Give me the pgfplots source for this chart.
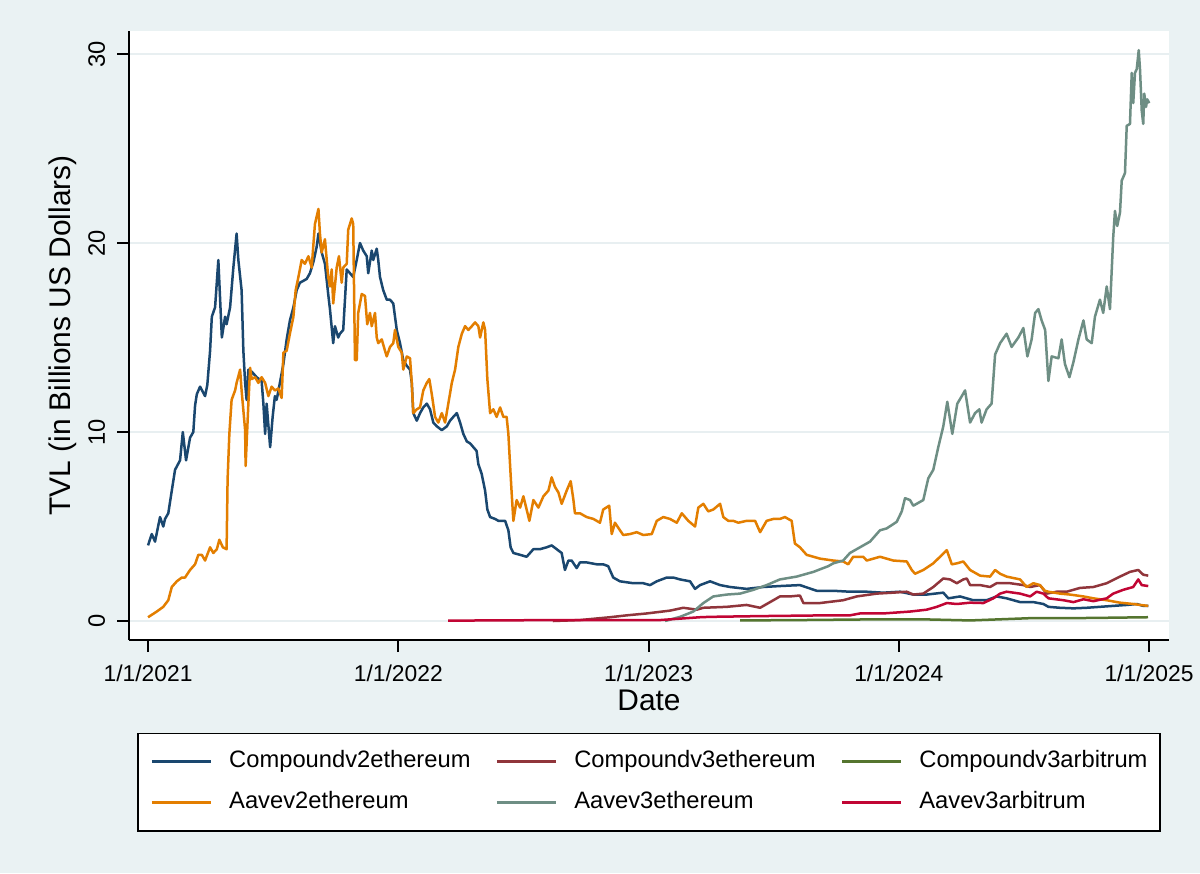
\documentclass[border=0pt]{standalone}
\usepackage{pgfplots}
\pgfplotsset{compat=1.18}
\usepackage{fontspec}
\setmainfont{Liberation Sans}

\definecolor{bgc}{HTML}{EAF2F3}
\definecolor{gridc}{HTML}{E8EFF1}
\definecolor{snavy}{HTML}{1A476F}
\definecolor{smaroon}{HTML}{90353B}
\definecolor{sgreen}{HTML}{55752F}
\definecolor{sorange}{HTML}{E37E00}
\definecolor{steal}{HTML}{6E8E84}
\definecolor{scranb}{HTML}{C10534}

\begin{document}
\begin{tikzpicture}
\fill[bgc] (0,0) rectangle (24cm,17.46cm);
\begin{axis}[
  at={(2.58cm,4.66cm)}, anchor=south west,
  scale only axis, width=20.8cm, height=12.18cm,
  xmin=2020.924, xmax=2025.080,
  ymin=-1.005, ymax=31.217,
  axis background/.style={fill=white},
  axis x line*=bottom, axis y line*=left,
  axis line style={black, line width=0.04cm, -},
  tick align=outside, major tick length=0.24cm,
  tick style={black, line width=0.04cm},
  xtick={2021,2022,2023,2024,2025},
  xticklabels={1/1/2021,1/1/2022,1/1/2023,1/1/2024,1/1/2025},
  ytick={0,10,20,30}, yticklabels={0,10,20,30},
  minor tick num=0,
  ymajorgrids, major grid style={gridc, line width=0.03cm},
  xticklabel style={font=\fontsize{13}{15}\selectfont, inner sep=0pt, anchor=north, yshift=-0.26cm},
  yticklabel style={font=\fontsize{13.5}{15}\selectfont, rotate=90, inner sep=0pt, anchor=south},
  yticklabel shift=0.23cm,
  xlabel={Date}, ylabel={TVL (in Billions US Dollars)},
  every axis x label/.style={at={(axis description cs:0.5,-0.0985)}, anchor=center, font=\fontsize{17}{20}\selectfont},
  every axis y label/.style={at={(axis description cs:-0.0635,0.5)}, rotate=90, anchor=center, font=\fontsize{17}{20}\selectfont},
  legend columns=3,
  legend cell align=left,
  legend image code/.code={\draw[#1, line width=0.055cm] (0cm,0cm) -- (1.18cm,0cm);},
  legend style={at={(axis description cs:0.5,-0.1527)}, anchor=north,
    draw=black, line width=0.03cm, fill=white,
    inner xsep=0.25cm, inner ysep=0.34cm, row sep=0.38cm,
    font=\fontsize{13.5}{16}\selectfont,
    nodes={inner sep=0pt, text height=0.34cm, text depth=0.1cm},
    /tikz/every odd column/.append style={column sep=0.34cm},
    /tikz/every even column/.append style={column sep=0.5cm}},
  every axis plot/.append style={line width=0.05cm, line join=round},
]
% Compoundv2ethereum
\addplot[snavy] coordinates {
(2021.000,4.0) (2021.015,4.6) (2021.028,4.2) (2021.048,5.5) (2021.061,5.0) (2021.068,5.4) (2021.081,5.7)
(2021.095,6.9) (2021.108,8.0) (2021.128,8.5) (2021.139,10.0) (2021.152,8.5) (2021.168,9.7) (2021.181,10.0)
(2021.188,11.4) (2021.195,12.0) (2021.208,12.4) (2021.228,11.9) (2021.237,12.5) (2021.248,14.3) (2021.255,16.1)
(2021.268,16.6) (2021.281,19.1) (2021.295,15.0) (2021.308,16.1) (2021.314,15.7) (2021.328,16.6) (2021.341,18.7)
(2021.354,20.5) (2021.361,19.1) (2021.374,17.5) (2021.381,14.3) (2021.388,12.6) (2021.394,11.7) (2021.401,13.3)
(2021.408,12.8) (2021.414,13.2) (2021.434,12.9) (2021.454,12.7) (2021.461,11.5) (2021.468,9.9) (2021.474,11.5)
(2021.488,9.2) (2021.498,10.8) (2021.507,11.9) (2021.514,11.7) (2021.527,12.6) (2021.541,13.6) (2021.554,14.9)
(2021.567,15.9) (2021.581,16.6) (2021.594,17.5) (2021.607,17.9) (2021.621,18.0) (2021.634,18.1) (2021.647,18.4)
(2021.661,19.0) (2021.674,19.8) (2021.681,20.5) (2021.694,19.5) (2021.707,18.9) (2021.720,17.3) (2021.727,16.5)
(2021.740,14.7) (2021.747,15.6) (2021.760,15.0) (2021.767,15.2) (2021.780,15.4) (2021.794,18.6) (2021.807,18.4)
(2021.820,18.2) (2021.834,19.1) (2021.847,20.0) (2021.860,19.6) (2021.874,19.3) (2021.880,18.4) (2021.894,19.6)
(2021.900,19.1) (2021.914,19.7) (2021.920,19.1) (2021.927,18.2) (2021.940,17.5) (2021.954,17.0) (2021.967,17.0)
(2021.980,16.8) (2021.994,15.4) (2022.007,14.7) (2022.020,13.8) (2022.034,13.5) (2022.047,13.3) (2022.054,12.6)
(2022.060,11.0) (2022.074,10.6) (2022.087,11.0) (2022.100,11.3) (2022.114,11.5) (2022.127,11.2) (2022.140,10.5)
(2022.154,10.3) (2022.174,10.1) (2022.194,10.3) (2022.207,10.6) (2022.220,10.8) (2022.234,11.0) (2022.247,10.5)
(2022.260,9.9) (2022.274,9.5) (2022.287,9.4) (2022.300,9.2) (2022.313,9.0) (2022.320,8.3) (2022.333,7.8)
(2022.347,6.9) (2022.356,5.9) (2022.367,5.5) (2022.387,5.4) (2022.400,5.3) (2022.427,5.3) (2022.440,4.8)
(2022.449,3.9) (2022.460,3.6) (2022.487,3.5) (2022.513,3.4) (2022.540,3.8) (2022.566,3.8) (2022.593,3.9)
(2022.613,4.0) (2022.633,3.8) (2022.653,3.6) (2022.666,2.7) (2022.680,3.2) (2022.693,3.2) (2022.713,2.8)
(2022.726,3.1) (2022.753,3.1) (2022.793,3.0) (2022.819,3.0) (2022.839,2.9) (2022.859,2.3) (2022.886,2.1)
(2022.939,2.0) (2022.979,2.0) (2023.006,1.9) (2023.033,2.1) (2023.073,2.3) (2023.099,2.3) (2023.126,2.2)
(2023.166,2.1) (2023.186,1.7) (2023.206,1.9) (2023.246,2.1) (2023.286,1.9) (2023.326,1.8) (2023.392,1.7)
(2023.459,1.8) (2023.525,1.85) (2023.605,1.9) (2023.672,1.6) (2023.738,1.6) (2023.805,1.55) (2023.872,1.55)
(2023.938,1.5) (2024.005,1.55) (2024.058,1.4) (2024.112,1.4) (2024.178,1.5) (2024.198,1.2) (2024.245,1.3)
(2024.298,1.1) (2024.351,1.1) (2024.391,1.3) (2024.431,1.2) (2024.485,1.0) (2024.538,1.0) (2024.578,0.9)
(2024.598,0.75) (2024.644,0.7) (2024.698,0.67) (2024.751,0.7) (2024.804,0.75) (2024.857,0.8) (2024.911,0.85)
(2024.951,0.9) (2024.977,0.8) (2024.997,0.8)
};
\addlegendentry{Compoundv2ethereum}
% Compoundv3ethereum
\addplot[smaroon] coordinates {
(2022.618,0.0) (2022.726,0.05) (2022.846,0.2) (2022.913,0.3) (2022.993,0.4) (2023.086,0.55) (2023.139,0.7)
(2023.193,0.6) (2023.219,0.7) (2023.313,0.75) (2023.392,0.85) (2023.446,0.7) (2023.499,1.1) (2023.525,1.3)
(2023.565,1.3) (2023.605,1.35) (2023.619,0.95) (2023.685,0.95) (2023.778,1.1) (2023.832,1.3) (2023.912,1.45)
(2023.978,1.5) (2024.032,1.55) (2024.058,1.4) (2024.098,1.45) (2024.138,1.8) (2024.178,2.25) (2024.205,2.2)
(2024.232,2.0) (2024.258,2.2) (2024.272,2.25) (2024.285,1.9) (2024.325,1.9) (2024.365,1.8) (2024.391,2.0)
(2024.445,2.0) (2024.498,1.9) (2024.525,1.8) (2024.564,1.9) (2024.591,1.45) (2024.631,1.55) (2024.671,1.55)
(2024.724,1.75) (2024.778,1.8) (2024.831,2.0) (2024.884,2.35) (2024.924,2.6) (2024.957,2.7) (2024.977,2.45)
(2024.997,2.4)
};
\addlegendentry{Compoundv3ethereum}
% Compoundv3arbitrum
\addplot[sgreen] coordinates {
(2023.366,0.03) (2023.605,0.05) (2023.925,0.09) (2024.125,0.08) (2024.285,0.03) (2024.525,0.15)
(2024.764,0.16) (2024.996,0.2)
};
\addlegendentry{Compoundv3arbitrum}
% Aavev2ethereum
\addplot[sorange] coordinates {
(2021.000,0.2) (2021.035,0.5) (2021.061,0.75) (2021.081,1.1) (2021.095,1.8) (2021.115,2.1) (2021.135,2.3)
(2021.148,2.3) (2021.168,2.7) (2021.188,3.0) (2021.201,3.5) (2021.215,3.5) (2021.228,3.2) (2021.248,3.9)
(2021.261,3.6) (2021.275,3.8) (2021.285,4.3) (2021.299,3.9) (2021.314,3.8) (2021.318,7.5) (2021.325,9.9)
(2021.334,11.7) (2021.348,12.2) (2021.354,12.6) (2021.368,13.3) (2021.374,12.2) (2021.388,10.1) (2021.390,8.2)
(2021.401,11.5) (2021.408,13.4) (2021.414,12.8) (2021.428,12.9) (2021.441,12.6) (2021.454,12.9) (2021.468,12.6)
(2021.481,11.9) (2021.494,12.4) (2021.507,12.2) (2021.521,12.3) (2021.534,11.8) (2021.541,14.2) (2021.554,14.3)
(2021.567,15.2) (2021.581,16.1) (2021.590,17.5) (2021.601,18.2) (2021.614,19.1) (2021.627,18.9) (2021.641,19.3)
(2021.654,18.7) (2021.667,21.0) (2021.681,21.8) (2021.687,20.5) (2021.694,19.5) (2021.707,20.2) (2021.720,18.2)
(2021.727,17.7) (2021.734,18.6) (2021.740,16.8) (2021.754,18.7) (2021.763,19.3) (2021.774,17.9) (2021.780,18.7)
(2021.794,18.9) (2021.800,20.7) (2021.814,21.3) (2021.820,21.0) (2021.827,13.8) (2021.834,13.8) (2021.840,16.3)
(2021.854,17.3) (2021.867,17.2) (2021.876,15.7) (2021.887,16.3) (2021.894,15.6) (2021.907,16.3) (2021.914,15.0)
(2021.920,14.7) (2021.934,14.9) (2021.947,14.3) (2021.954,14.0) (2021.967,14.5) (2021.980,14.7) (2021.987,15.4)
(2022.000,14.5) (2022.014,14.2) (2022.020,13.3) (2022.034,14.0) (2022.047,13.9) (2022.054,12.6) (2022.060,11.0)
(2022.074,11.2) (2022.087,11.3) (2022.100,12.2) (2022.114,12.6) (2022.124,12.8) (2022.134,12.0) (2022.147,10.8)
(2022.160,10.5) (2022.174,11.0) (2022.187,10.5) (2022.200,11.5) (2022.214,12.6) (2022.227,13.3) (2022.240,14.5)
(2022.254,15.2) (2022.267,15.6) (2022.280,15.4) (2022.294,15.6) (2022.307,15.8) (2022.320,15.6) (2022.327,15.0)
(2022.340,15.8) (2022.347,15.4) (2022.356,12.8) (2022.367,11.0) (2022.380,11.2) (2022.393,10.8) (2022.407,11.3)
(2022.420,10.8) (2022.433,10.8) (2022.440,9.9) (2022.447,8.2) (2022.453,6.8) (2022.460,5.3) (2022.473,6.4)
(2022.487,6.0) (2022.500,6.6) (2022.513,5.9) (2022.524,5.3) (2022.540,6.4) (2022.560,6.0) (2022.580,6.6)
(2022.600,6.9) (2022.613,7.6) (2022.626,7.1) (2022.640,6.8) (2022.653,6.2) (2022.673,6.9) (2022.689,7.4)
(2022.700,6.4) (2022.706,5.7) (2022.726,5.7) (2022.753,5.5) (2022.780,5.4) (2022.806,5.2) (2022.819,5.9)
(2022.843,6.1) (2022.853,4.6) (2022.866,5.2) (2022.886,4.8) (2022.899,4.55) (2022.926,4.6) (2022.953,4.7)
(2022.979,4.55) (2023.013,4.6) (2023.033,5.3) (2023.059,5.5) (2023.086,5.4) (2023.113,5.2) (2023.133,5.7)
(2023.159,5.3) (2023.186,5.0) (2023.199,6.0) (2023.219,6.2) (2023.239,5.8) (2023.259,5.9) (2023.286,6.2)
(2023.299,5.5) (2023.319,5.3) (2023.339,5.3) (2023.359,5.2) (2023.392,5.3) (2023.426,5.3) (2023.446,4.7)
(2023.472,5.3) (2023.499,5.4) (2023.525,5.4) (2023.545,5.5) (2023.572,5.3) (2023.585,4.1) (2023.605,3.9)
(2023.632,3.5) (2023.659,3.4) (2023.685,3.3) (2023.738,3.2) (2023.778,3.15) (2023.798,3.0) (2023.818,3.4)
(2023.858,3.4) (2023.872,3.2) (2023.925,3.4) (2023.978,3.2) (2024.032,3.15) (2024.052,2.7) (2024.065,2.5)
(2024.098,2.7) (2024.138,3.05) (2024.165,3.4) (2024.192,3.75) (2024.212,3.0) (2024.232,3.05) (2024.258,3.15)
(2024.285,2.7) (2024.325,2.4) (2024.365,2.35) (2024.385,2.7) (2024.405,2.5) (2024.431,2.35) (2024.485,2.2)
(2024.511,1.8) (2024.538,2.0) (2024.564,1.9) (2024.584,1.6) (2024.598,1.55) (2024.644,1.45) (2024.684,1.4)
(2024.738,1.3) (2024.778,1.2) (2024.831,1.1) (2024.884,0.97) (2024.937,0.9) (2024.964,0.85) (2024.997,0.8)
};
\addlegendentry{Aavev2ethereum}
% Aavev3ethereum
\addplot[steal] coordinates {
(2023.066,0.0) (2023.126,0.22) (2023.179,0.5) (2023.219,0.95) (2023.259,1.3) (2023.313,1.4) (2023.366,1.45)
(2023.419,1.65) (2023.472,1.9) (2023.525,2.2) (2023.592,2.35) (2023.659,2.6) (2023.718,2.9) (2023.738,3.05)
(2023.778,3.2) (2023.805,3.6) (2023.845,3.9) (2023.885,4.2) (2023.925,4.8) (2023.952,4.9) (2023.992,5.25)
(2024.012,5.8) (2024.025,6.5) (2024.045,6.4) (2024.058,6.1) (2024.098,6.4) (2024.118,7.55) (2024.138,8.0)
(2024.158,9.2) (2024.178,10.3) (2024.194,11.6) (2024.214,9.9) (2024.234,11.5) (2024.252,11.9) (2024.265,12.2)
(2024.285,10.5) (2024.305,11.0) (2024.322,11.2) (2024.331,10.5) (2024.351,11.2) (2024.371,11.5) (2024.385,14.1)
(2024.405,14.7) (2024.431,15.2) (2024.451,14.5) (2024.478,15.0) (2024.498,15.5) (2024.514,14.0) (2024.531,14.9)
(2024.545,16.3) (2024.558,16.5) (2024.571,15.9) (2024.585,15.4) (2024.598,12.7) (2024.611,14.0) (2024.638,13.9)
(2024.651,14.9) (2024.664,13.6) (2024.682,12.9) (2024.698,13.7) (2024.718,14.9) (2024.738,15.9) (2024.751,14.9)
(2024.771,14.7) (2024.784,16.1) (2024.804,17.0) (2024.817,16.3) (2024.831,17.7) (2024.844,16.5) (2024.857,20.3)
(2024.864,21.7) (2024.873,20.9) (2024.884,21.6) (2024.891,23.3) (2024.904,23.7) (2024.911,26.2) (2024.924,26.3)
(2024.931,29.0) (2024.937,27.4) (2024.944,29.0) (2024.951,29.2) (2024.959,30.2) (2024.964,29.2) (2024.971,27.0)
(2024.977,26.3) (2024.981,27.9) (2024.988,27.2) (2024.993,27.6) (2025.001,27.4)
};
\addlegendentry{Aavev3ethereum}
% Aavev3arbitrum
\addplot[scranb] coordinates {
(2022.199,0.02) (2022.646,0.05) (2023.046,0.05) (2023.206,0.2) (2023.246,0.22) (2023.446,0.26) (2023.712,0.3)
(2023.805,0.3) (2023.845,0.4) (2023.938,0.4) (2024.045,0.5) (2024.112,0.6) (2024.152,0.75) (2024.192,0.95)
(2024.232,0.9) (2024.285,0.97) (2024.338,0.95) (2024.378,1.2) (2024.405,1.45) (2024.431,1.55) (2024.485,1.45)
(2024.525,1.3) (2024.551,1.55) (2024.578,1.45) (2024.598,1.2) (2024.658,1.1) (2024.698,1.0) (2024.738,1.15)
(2024.778,1.05) (2024.831,1.2) (2024.857,1.45) (2024.897,1.65) (2024.937,1.8) (2024.957,2.2) (2024.971,1.9)
(2024.997,1.85)
};
\addlegendentry{Aavev3arbitrum}
\end{axis}
\end{tikzpicture}
\end{document}
